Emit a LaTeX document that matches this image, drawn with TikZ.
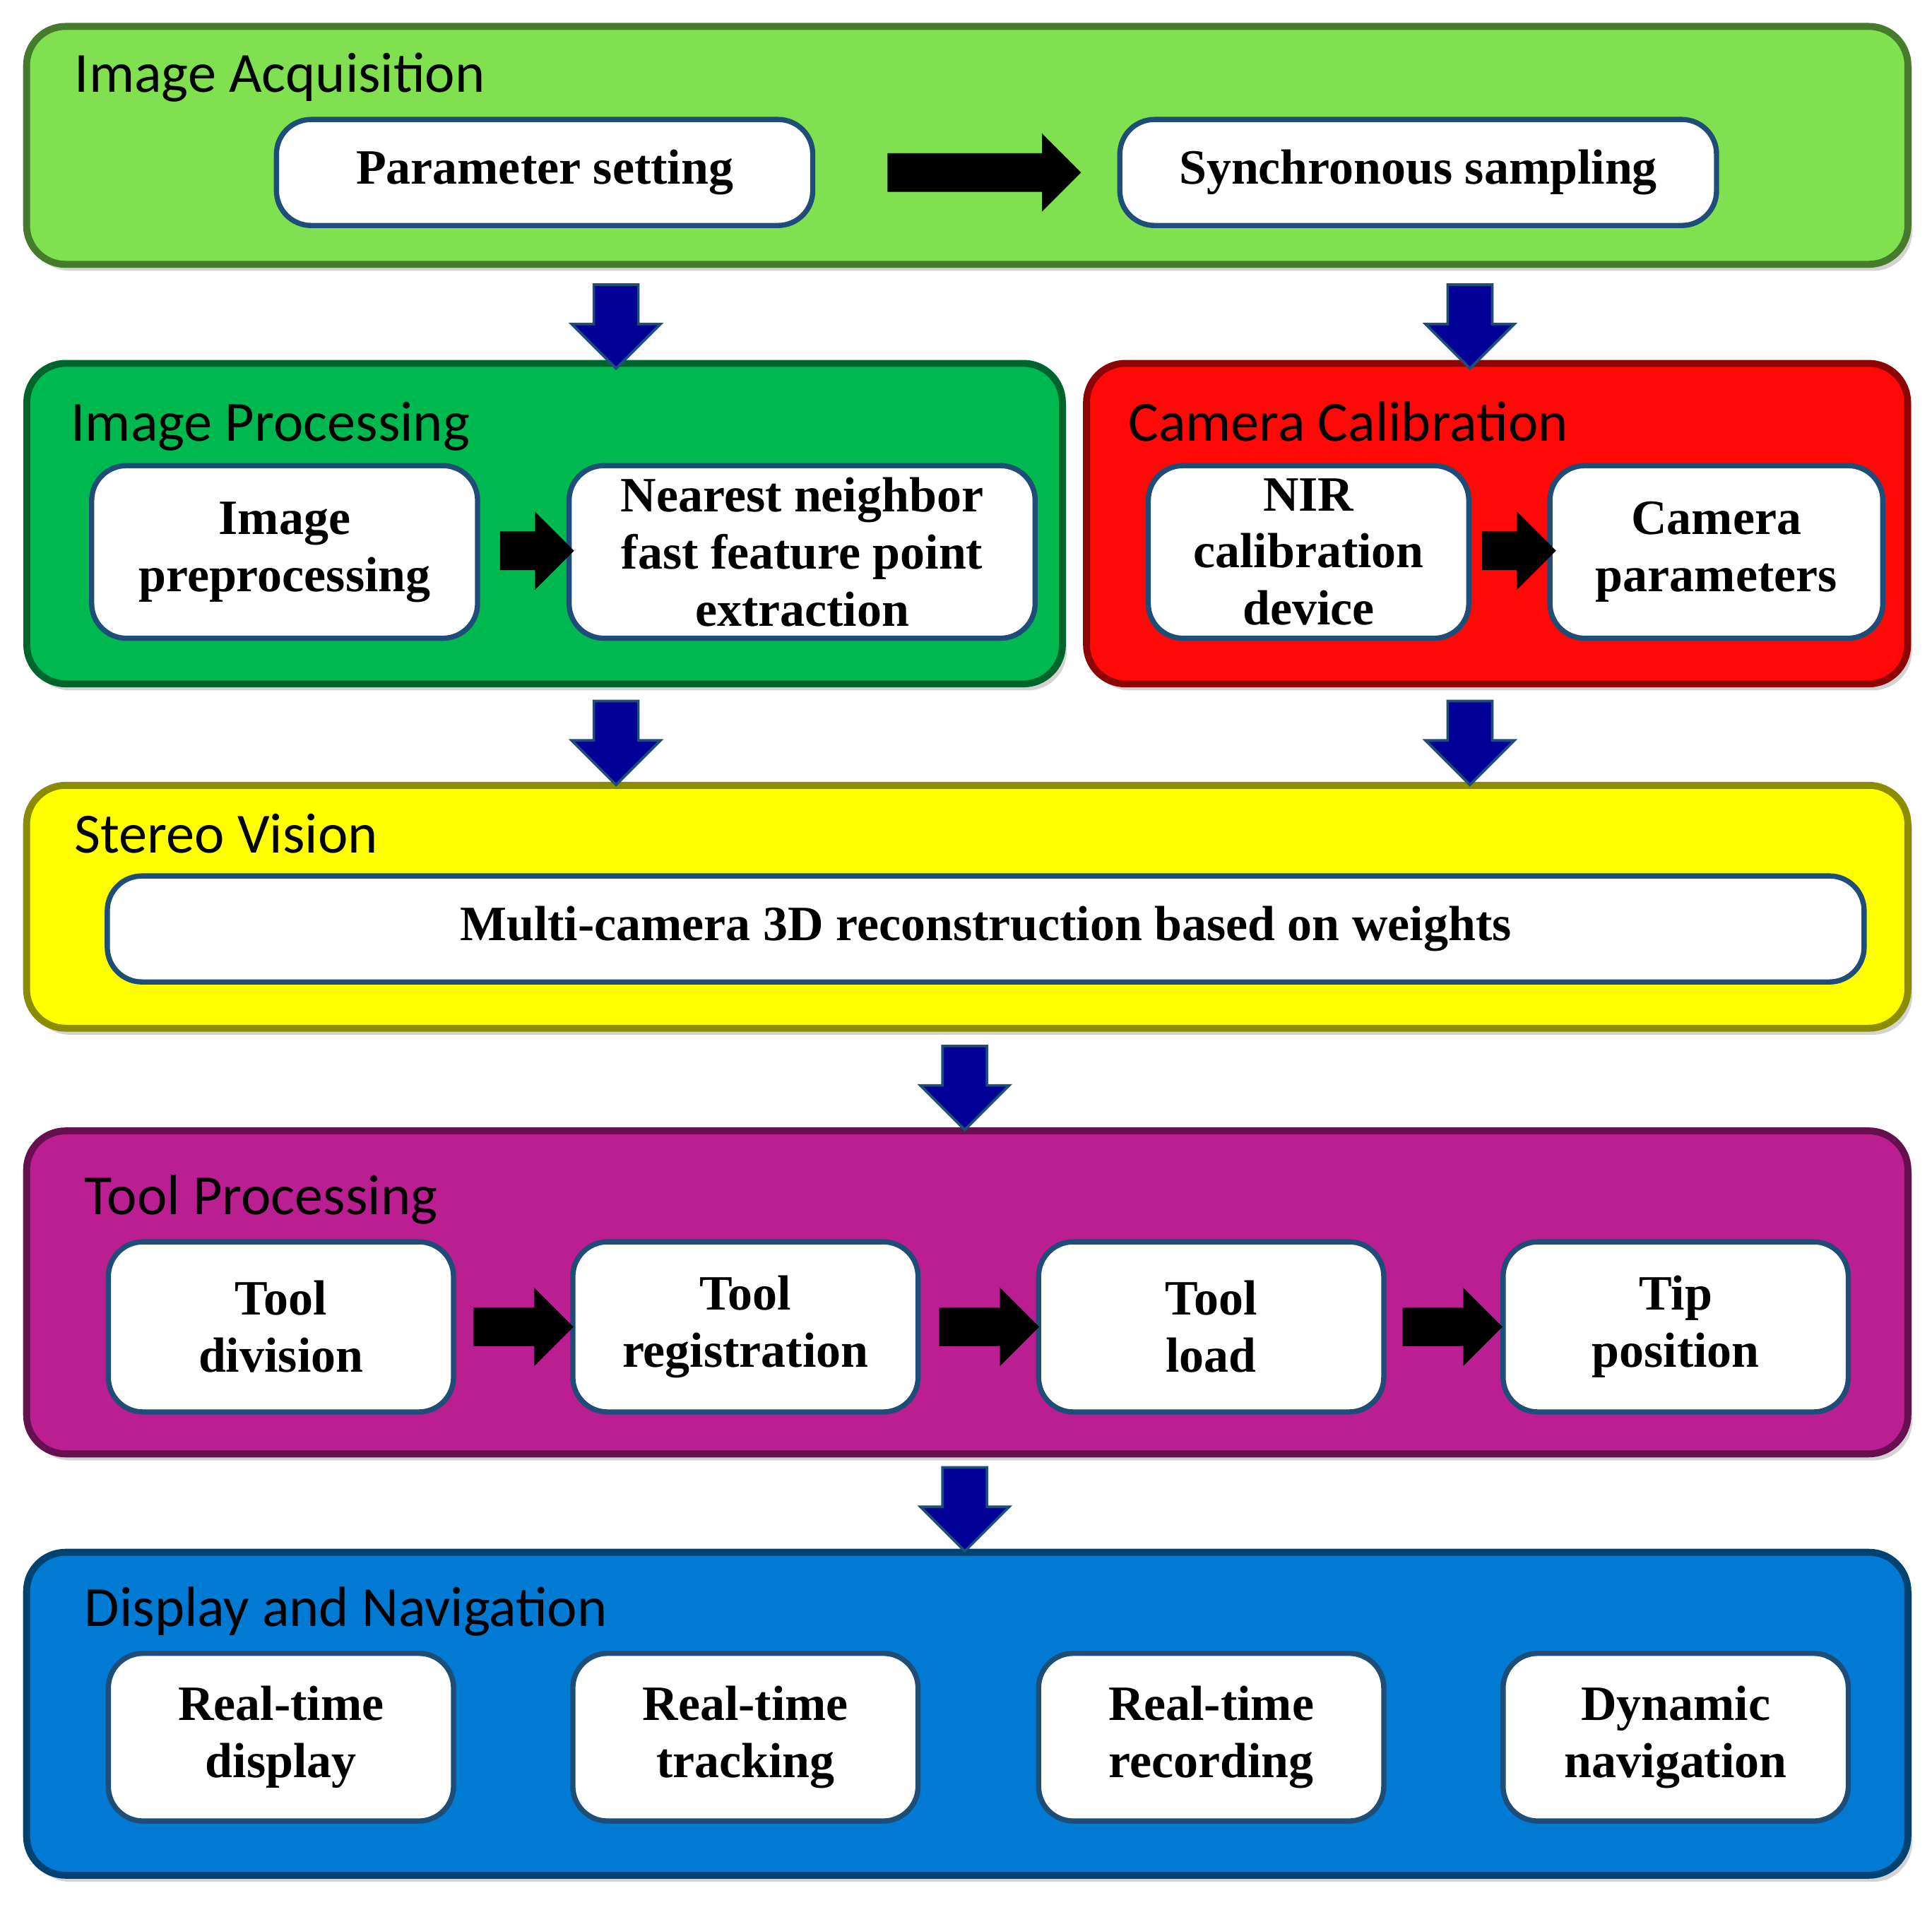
\documentclass[tikz,border=0pt]{standalone}
\usepackage{fontspec}
\setmainfont{Liberation Serif}
\newfontfamily\titlefont{Carlito}
\usetikzlibrary{shapes.arrows,shadows}
\definecolor{acqgreen}{RGB}{128,224,80}
\definecolor{procgreen}{RGB}{0,184,80}
\definecolor{calred}{RGB}{255,8,8}
\definecolor{stereoyellow}{RGB}{255,255,0}
\definecolor{toolpurple}{RGB}{186,30,144}
\definecolor{dispblue}{RGB}{0,122,210}
\definecolor{boxedge}{RGB}{30,78,120}
\definecolor{downblue}{RGB}{0,0,150}
\tikzset{
  stage/.style={draw=#1!55!black,fill=#1,line width=1.6pt,rounded corners=9pt,
    drop shadow={shadow xshift=1pt,shadow yshift=-1.5pt,opacity=.35},inner sep=0pt},
  task/.style={draw=boxedge,fill=white,line width=1.2pt,rounded corners=8pt,
    align=center,font=\fontsize{11.4}{13.2}\selectfont\bfseries,inner sep=0pt},
  stagetitle/.style={anchor=base west,font=\titlefont\fontsize{13.1}{15}\selectfont,inner sep=0pt},
  downarrow/.style={single arrow,draw=boxedge,fill=downblue,line width=.6pt,rotate=-90,
    inner xsep=0pt,inner ysep=0.17cm,single arrow head extend=0.18cm,minimum height=0.68cm},
  fwdarrow/.style={single arrow,fill=black,inner xsep=0pt,inner ysep=0.15cm,
    single arrow head extend=0.16cm}
}
\begin{document}
\begin{tikzpicture}[x=0.01cm,y=-0.01cm]
  \useasboundingbox (0,0) rectangle (1568,1546);
  % stages
  \node[stage=acqgreen,minimum width=15.26cm,minimum height=1.93cm] (acq) at (785,118) {};
  \node[stage=procgreen,minimum width=8.40cm,minimum height=2.60cm] (proc) at (442,425) {};
  \node[stage=calred,minimum width=6.66cm,minimum height=2.60cm] (cal) at (1215,425) {};
  \node[stage=stereoyellow,minimum width=15.26cm,minimum height=1.97cm] (stereo) at (785,736) {};
  \node[stage=toolpurple,minimum width=15.26cm,minimum height=2.62cm] (tool) at (785,1049) {};
  \node[stage=dispblue,minimum width=15.26cm,minimum height=2.62cm] (disp) at (785,1391) {};
  \node[stagetitle] at (60,75) {Image Acquisition};
  \node[stagetitle] at (57,358) {Image Processing};
  \node[stagetitle] at (915,358) {Camera Calibration};
  \node[stagetitle] at (60,692) {Stereo Vision};
  \node[stagetitle] at (68,986) {Tool Processing};
  \node[stagetitle] at (68,1320) {Display and Navigation};

  % tasks
  \node[task,minimum width=4.35cm,minimum height=0.86cm] (param) at (442,140) {Parameter setting};
  \node[task,minimum width=4.84cm,minimum height=0.86cm] (sync) at (1151,140) {Synchronous sampling};
  \node[task,minimum width=3.13cm,minimum height=1.40cm] (pre) at (231,448) {Image\\preprocessing};
  \node[task,minimum width=3.78cm,minimum height=1.40cm] (feat) at (651,448) {Nearest neighbor\\fast feature point\\extraction};
  \node[task,minimum width=2.60cm,minimum height=1.40cm] (nir) at (1062,448) {NIR\\calibration\\device};
  \node[task,minimum width=2.70cm,minimum height=1.40cm] (campar) at (1393,448) {Camera\\parameters};
  \node[task,minimum width=14.25cm,minimum height=0.86cm] (recon) at (800,754) {Multi-camera 3D reconstruction based on weights};
  \node[task,minimum width=2.80cm,minimum height=1.38cm] (divi) at (228,1077) {Tool\\division};
  \node[task,minimum width=2.80cm,minimum height=1.38cm] (regi) at (605,1077) {Tool\\registration};
  \node[task,minimum width=2.80cm,minimum height=1.38cm] (load) at (983,1077) {Tool\\load};
  \node[task,minimum width=2.80cm,minimum height=1.38cm] (tip) at (1360,1077) {Tip\\position};
  \node[task,minimum width=2.80cm,minimum height=1.36cm] (rdisp) at (228,1410) {Real-time\\display};
  \node[task,minimum width=2.80cm,minimum height=1.36cm] (rtrack) at (605,1410) {Real-time\\tracking};
  \node[task,minimum width=2.80cm,minimum height=1.36cm] (rrec) at (983,1410) {Real-time\\recording};
  \node[task,minimum width=2.80cm,minimum height=1.36cm] (dnav) at (1360,1410) {Dynamic\\navigation};

  % arrows within stages
  \node[fwdarrow,minimum height=1.57cm] (a1) at (791,140) {};
  \node[fwdarrow,minimum height=0.60cm] (a2) at (428,447) {};
  \node[fwdarrow,minimum height=0.60cm] (a3) at (1225,447) {};
  \foreach \x/\n in {417/a4,795/a5,1171/a6}
    \node[fwdarrow,minimum height=0.81cm] (\n) at (\x,1077) {};

  % arrows between stages
  \foreach \x/\y/\n in {500/256/d1,1193/256/d2,500/594/d3,1193/594/d4,783/874/d5,783/1216/d6}
    \node[downarrow] (\n) at (\x,\y) {};
\end{tikzpicture}
\end{document}
